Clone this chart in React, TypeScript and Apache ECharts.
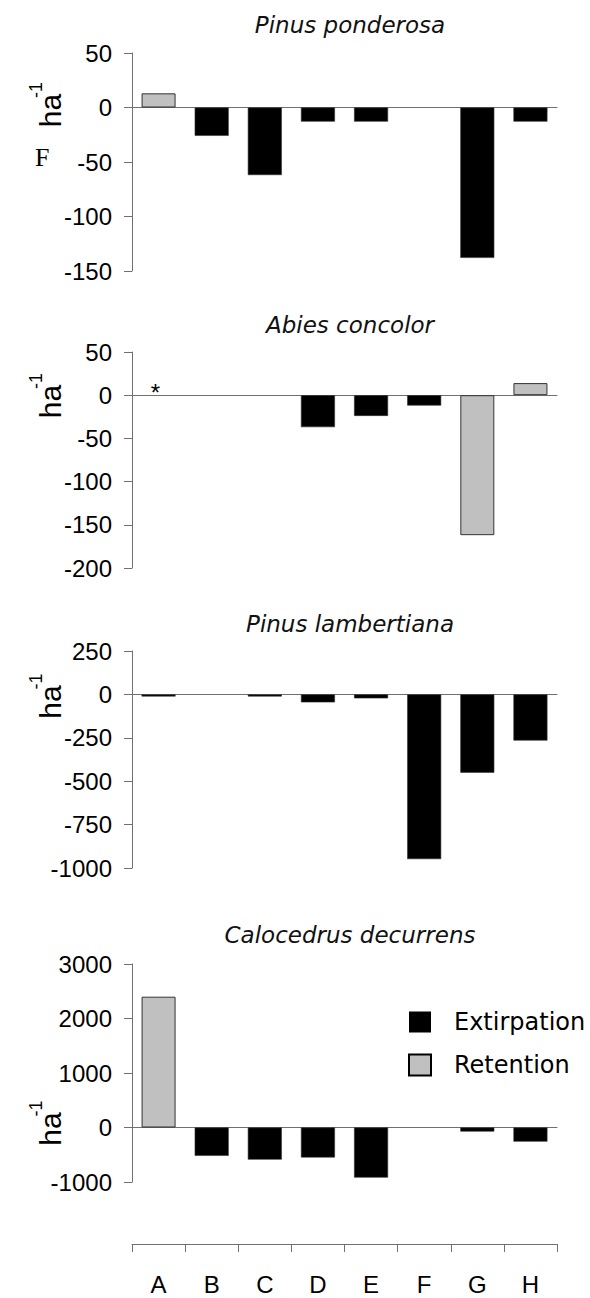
import React, { useEffect, useRef } from 'react';
import * as echarts from 'echarts';

const categories = ['A', 'B', 'C', 'D', 'E', 'F', 'G', 'H'];

const ppExtirpation = [null, -26, -62, -13, -13, null, -138, -13];
const ppRetention = [13, null, null, null, null, null, null, null];

const acExtirpation = [null, null, null, -37, -24, -12, null, null];
const acRetention = [null, null, null, null, null, null, -162, 14];

const plExtirpation = [-12, null, -12, -46, -23, -949, -451, -266];
const plRetention = [null, null, null, null, null, null, null, null];

const cdExtirpation = [null, -520, -590, -550, -920, null, -75, -260];
const cdRetention = [2400, null, null, null, null, null, null, null];

const titles = ['Pinus ponderosa', 'Abies concolor', 'Pinus lambertiana', 'Calocedrus decurrens'];
const yMins = [-150, -200, -1000, -1000];
const yMaxs = [50, 50, 250, 3000];
const yIntervals = [50, 50, 250, 1000];
const extSets = [ppExtirpation, acExtirpation, plExtirpation, cdExtirpation];
const retSets = [ppRetention, acRetention, plRetention, cdRetention];

// layout (pixels)
const gridTops = [53, 352, 651, 964];
const gridHeights = [218, 216, 217, 218];
const titleYs = [25, 325, 624, 935];
const unitYs = [110.5, 401.5, 702, 1129];
const GRID_LEFT = 132;
const GRID_WIDTH = 425;
const AXIS_GRAY = '#707070';
const SANS = 'Liberation Sans';
const VERD = 'DejaVu Sans';

export default function App() {
  const ref = useRef<HTMLDivElement>(null);
  useEffect(() => {
    const chart = echarts.init(ref.current!, null, { renderer: 'svg' });

    const grids: any[] = [];
    const xAxes: any[] = [];
    const yAxes: any[] = [];
    const series: any[] = [];
    const graphics: any[] = [];

    for (let i = 0; i < 4; i++) {
      grids.push({ left: GRID_LEFT, width: GRID_WIDTH, top: gridTops[i], height: gridHeights[i] });
      xAxes.push({
        type: 'category',
        gridIndex: i,
        data: categories,
        axisLine: { show: true, onZero: true, lineStyle: { color: AXIS_GRAY, width: 1 } },
        axisTick: { show: false },
        axisLabel: { show: false },
        splitLine: { show: false },
      });
      yAxes.push({
        type: 'value',
        gridIndex: i,
        min: yMins[i],
        max: yMaxs[i],
        interval: yIntervals[i],
        axisLine: { show: true, lineStyle: { color: AXIS_GRAY, width: 1 } },
        axisTick: { show: true, inside: false, length: 8, lineStyle: { color: AXIS_GRAY, width: 1 } },
        axisLabel: {
          fontSize: 24,
          fontFamily: SANS,
          color: '#000',
          margin: 20,
          formatter: (v: number) => String(v),
        },
        splitLine: { show: false },
      });
      series.push({
        name: 'Extirpation',
        type: 'bar',
        xAxisIndex: i,
        yAxisIndex: i,
        stack: 's' + i,
        barWidth: 34,
        data: extSets[i],
        itemStyle: { color: '#000000', borderColor: '#333333', borderWidth: 0.6 },
      });
      series.push({
        name: 'Retention',
        type: 'bar',
        xAxisIndex: i,
        yAxisIndex: i,
        stack: 's' + i,
        barWidth: 34,
        data: retSets[i],
        itemStyle: { color: '#c0c0c0', borderColor: '#333333', borderWidth: 1 },
      });
      graphics.push({
        type: 'text',
        x: 350,
        y: titleYs[i],
        style: {
          text: titles[i],
          fontSize: 23,
          fontStyle: 'italic',
          fontFamily: VERD,
          fill: '#111',
          align: 'center',
          verticalAlign: 'middle',
        },
      });
      graphics.push({
        type: 'text',
        x: 50,
        y: unitYs[i],
        rotation: Math.PI / 2,
        style: {
          text: 'ha',
          fontSize: 30,
          fontFamily: SANS,
          fill: '#000',
          align: 'center',
          verticalAlign: 'middle',
        },
      });
      graphics.push({
        type: 'text',
        x: 36,
        y: unitYs[i] - 20.5,
        rotation: Math.PI / 2,
        style: {
          text: '-1',
          fontSize: 18,
          fontFamily: SANS,
          fill: '#000',
          align: 'center',
          verticalAlign: 'middle',
        },
      });
    }

    // bottom category axis
    grids.push({ left: GRID_LEFT, width: GRID_WIDTH, top: 1243, height: 1 });
    xAxes.push({
      type: 'category',
      gridIndex: 4,
      data: categories,
      position: 'bottom',
      axisLine: { show: true, onZero: false, lineStyle: { color: AXIS_GRAY, width: 1 } },
      axisTick: { show: true, inside: false, length: 8, lineStyle: { color: AXIS_GRAY, width: 1 } },
      axisLabel: { fontSize: 24, fontFamily: SANS, color: '#000', margin: 28 },
      splitLine: { show: false },
    });
    yAxes.push({ type: 'value', gridIndex: 4, show: false, min: 0, max: 1 });

    // asterisk annotation (Abies concolor, A)
    graphics.push({
      type: 'text',
      x: 155.5,
      y: 392,
      style: { text: '*', fontSize: 24, fontFamily: SANS, fill: '#000', align: 'center', verticalAlign: 'middle' },
    });

    // stray clipped glyph at left
    graphics.push({
      type: 'text',
      x: 35,
      y: 157,
      style: { text: 'F', fontSize: 26, fontFamily: 'Liberation Serif', fill: '#000', align: 'left', verticalAlign: 'middle' },
    });
    graphics.push({
      type: 'rect',
      shape: { x: 50, y: 140, width: 10, height: 30 },
      style: { fill: '#ffffff' },
    });

    chart.setOption({
      animation: false,
      backgroundColor: '#ffffff',
      grid: grids,
      xAxis: xAxes,
      yAxis: yAxes,
      series,
      legend: {
        orient: 'vertical',
        left: 403,
        top: 1005,
        icon: 'rect',
        itemWidth: 22,
        itemHeight: 21,
        itemGap: 19,
        textStyle: { fontSize: 24, fontFamily: VERD, color: '#000', padding: [0, 0, 0, 18] },
        data: [
          { name: 'Extirpation', itemStyle: { color: '#000', borderWidth: 0 } },
          { name: 'Retention', itemStyle: { color: '#c0c0c0', borderColor: '#000', borderWidth: 2 } },
        ],
      },
      graphic: graphics,
    });
    return () => chart.dispose();
  }, []);
  return <div ref={ref} style={{ position: 'absolute', left: 0, top: 0, width: 590, height: 1298 }} />;
}
